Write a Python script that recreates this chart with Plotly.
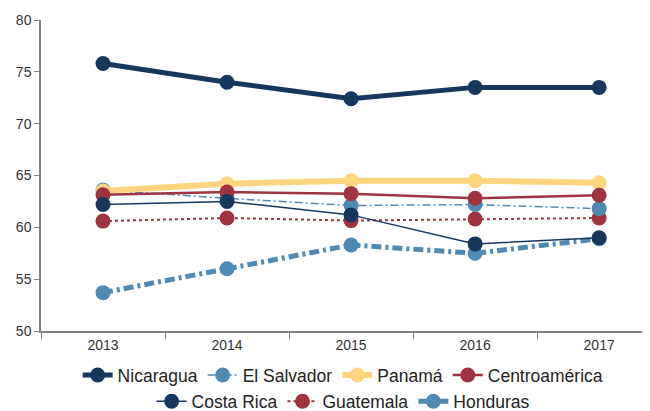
import plotly.graph_objects as go

years = ["2013", "2014", "2015", "2016", "2017"]

nicaragua = [75.8, 74.0, 72.4, 73.5, 73.5]
el_salvador = [63.6, 62.8, 62.1, 62.2, 61.8]
panama = [63.5, 64.2, 64.5, 64.5, 64.3]
centroamerica = [63.15, 63.4, 63.25, 62.8, 63.1]
costa_rica = [62.2, 62.5, 61.2, 58.4, 59.0]
guatemala = [60.6, 60.9, 60.65, 60.8, 60.9]
honduras = [53.7, 56.0, 58.3, 57.5, 58.9]

NAVY = "#17375E"
LIGHT_BLUE = "#5089B3"
YELLOW = "#FFD580"
RED = "#9E3341"

# (name, values, colour, width, dash, legend, rank) in drawing order
series = [
    ("Honduras", honduras, LIGHT_BLUE, 5, "10px,4px,3px,4px", "legend2", 7),
    ("Guatemala", guatemala, RED, 2, "dot", "legend2", 6),
    ("El Salvador", el_salvador, LIGHT_BLUE, 1.5, "8px,3px,2px,3px", "legend", 2),
    ("Panamá", panama, YELLOW, 6, "solid", "legend", 3),
    ("Centroamérica", centroamerica, RED, 2.5, "solid", "legend", 4),
    ("Costa Rica", costa_rica, NAVY, 1.5, "solid", "legend2", 5),
    ("Nicaragua", nicaragua, NAVY, 5, "solid", "legend", 1),
]

fig = go.Figure()
for name, vals, color, width, dash, leg, rank in series:
    fig.add_trace(go.Scatter(
        x=years, y=vals, name=name, mode="lines+markers",
        line=dict(color=color, width=width, dash=dash),
        marker=dict(color=color, size=15),
        legend=leg, legendrank=rank,
    ))

legend_style = dict(
    orientation="h", xref="container", yref="container",
    xanchor="center", yanchor="middle", x=0.522,
    font=dict(size=17.5, color="#222"), itemwidth=30,
    bgcolor="rgba(0,0,0,0)",
)

# the page body keeps an 8px margin, so the figure is sized to fit the window
fig.update_layout(
    width=642, height=403,
    margin=dict(l=33, r=0, t=12, b=80, autoexpand=False),
    paper_bgcolor="white", plot_bgcolor="white",
    font=dict(family="Liberation Sans, Arial, sans-serif", color="#333"),
    showlegend=True,
    legend=dict(legend_style, y=0.089),
    legend2=dict(legend_style, y=0.024),
    xaxis=dict(
        type="category", range=[-0.5, 4.41], automargin=False,
        showline=True, linecolor="#808080", linewidth=1.5,
        ticks="outside", tickson="boundaries", ticklen=6, tickcolor="#808080",
        showgrid=False, tickfont=dict(size=14),
    ),
    yaxis=dict(
        range=[50, 80], dtick=5, automargin=False,
        showline=True, linecolor="#808080", linewidth=1.5,
        ticks="outside", ticklen=5, tickcolor="#808080",
        showgrid=False, zeroline=False, tickfont=dict(size=14),
    ),
)

fig.write_html("out.html")
